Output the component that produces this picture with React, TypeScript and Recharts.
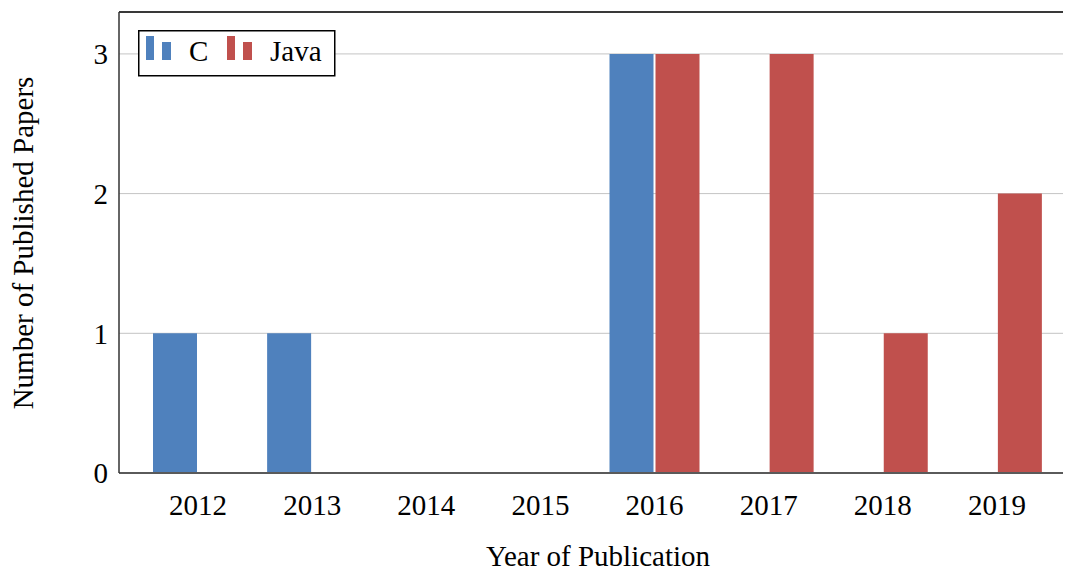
import React from 'react';
import { BarChart, Bar, XAxis, YAxis, CartesianGrid, ReferenceLine } from 'recharts';

const years = ['2012', '2013', '2014', '2015', '2016', '2017', '2018', '2019'];
const cPapers = [1, 1, 0, 0, 3, 0, 0, 0];
const javaPapers = [0, 0, 0, 0, 3, 3, 1, 2];
const yTicks = [0, 1, 2, 3];

const data = years.map((year, i) => ({ year, C: cPapers[i], Java: javaPapers[i] }));

const series = [
  { key: 'C', color: '#4f81bd' },
  { key: 'Java', color: '#c0504d' },
];

const FONT = '"Liberation Serif", "Times New Roman", serif';

const XLabel = (props: any) => {
  const { viewBox } = props;
  return (
    <text x={598} y={viewBox.y + 93} textAnchor="middle" fontFamily={FONT} fontSize={29} fill="#000">
      Year of Publication
    </text>
  );
};

const YLabel = () => (
  <text
    x={23}
    y={243}
    transform="rotate(-90 23 243)"
    textAnchor="middle"
    dominantBaseline="central"
    fontFamily={FONT}
    fontSize={29}
    fill="#000"
  >
    Number of Published Papers
  </text>
);

// legend drawn over the plot, pgfplots style (two little bars per entry)
const LegendBox = () => (
  <svg width={198} height={47} style={{ display: 'block' }}>
    <rect x={0.75} y={0.75} width={196} height={45} fill="#fff" stroke="#000" strokeWidth={1.5} />
    {series.map((s, i) => {
      const ox = i * 81;
      return (
        <g key={s.key}>
          <rect x={8 + ox} y={6} width={8} height={24} fill={s.color} />
          <rect x={24 + ox} y={12} width={9} height={18} fill={s.color} />
          <text x={51 + ox} y={31} fontFamily={FONT} fontSize={29} fill="#000">
            {s.key}
          </text>
        </g>
      );
    })}
  </svg>
);

export default function App() {
  return (
    <div style={{ position: 'absolute', left: 0, top: 0, width: 1065, height: 572, background: '#fff' }}>
      <BarChart
        width={1065}
        height={572}
        data={data}
        margin={{ top: 12, right: 2, left: 0, bottom: 0 }}
        barSize={44}
        barGap={2}
      >
        <CartesianGrid horizontal vertical={false} stroke="#c4c4c4" strokeWidth={1} />
        <XAxis
          dataKey="year"
          height={99}
          padding={{ left: 22, right: 9 }}
          tickLine={false}
          tickSize={0}
          tickMargin={21}
          axisLine={{ stroke: '#5a5a5a', strokeWidth: 2 }}
          tick={{ fill: '#000', fontSize: 29, fontFamily: FONT }}
          label={<XLabel />}
        />
        <YAxis
          width={119}
          domain={[0, 3.3]}
          ticks={yTicks}
          allowDataOverflow
          tickLine={false}
          tickSize={0}
          tickMargin={11}
          axisLine={{ stroke: '#333', strokeWidth: 1.5 }}
          tick={{ fill: '#000', fontSize: 29, fontFamily: FONT }}
          label={<YLabel />}
        />
        <ReferenceLine y={3.3} stroke="#000" strokeWidth={1.5} />
        {series.map((s) => (
          <Bar key={s.key} dataKey={s.key} name={s.key} fill={s.color} isAnimationActive={false} />
        ))}
      </BarChart>
      <div style={{ position: 'absolute', left: 138, top: 30 }}>
        <LegendBox />
      </div>
    </div>
  );
}
